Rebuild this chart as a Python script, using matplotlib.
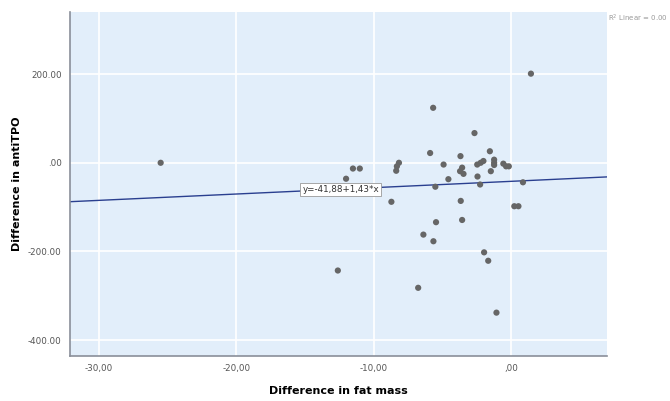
import numpy as np
import matplotlib.pyplot as plt

# Datos
fat_mass = [-25.5, -12.6, -12.0, -11.5, -11.0, -8.7, -8.35, -8.3, -8.15,
            -6.75, -6.37, -5.88, -5.66, -5.64, -5.5, -5.45, -4.9, -4.55,
            -3.67, -3.7, -3.55, -3.45, -3.65, -3.55, -2.65, -2.43, -2.45,
            -2.24, -2.2, -2.0, -1.95, -1.65, -1.53, -1.46, -1.22, -1.22,
            -1.22, -1.05, -0.55, -0.35, -0.15, 0.25, 0.55, 0.88, 1.46]
anti_tpo = [0, -243, -36, -13, -13, -88, -18, -8, 0,
            -282, -162, 22, 124, -177, -54, -134, -4, -37,
            15, -19, -11, -25, -86, -129, 67, -31, -4,
            -49, 0, 4, -202, -221, 26, -19, 7, 0,
            -5, -338, -2, -8, -8, -98, -98, -44, 201]
intercept = -41.88
slope = 1.43
xticks = [-30, -20, -10, 0]
xtick_labels = ["-30,00", "-20,00", "-10,00", ",00"]
yticks = [-400, -200, 0, 200]
ytick_labels = ["-400.00", "-200.00", ".00", "200.00"]

fig = plt.figure(figsize=(6.7, 4.01), dpi=100)
ax = fig.add_axes([0.1045, 0.112, 0.8015, 0.858])
ax.set_facecolor("#E2EEFA")
xmin, xmax = -32.1, 7.0
ax.set_xlim(xmin, xmax)
ax.set_ylim(-436, 340)

# Grilla
ax.set_xticks(xticks)
ax.set_xticklabels(xtick_labels)
ax.set_yticks(yticks)
ax.set_yticklabels(ytick_labels)
ax.grid(True, color="white", lw=1.2)
ax.set_axisbelow(True)
ax.tick_params(length=0, labelsize=6.3, labelcolor="#555555", pad=6)

for s in ["top", "right"]:
    ax.spines[s].set_visible(False)
for s in ["left", "bottom"]:
    ax.spines[s].set_color("#8a8f99")
    ax.spines[s].set_linewidth(1.2)

# Puntos
ax.scatter(fat_mass, anti_tpo, s=20, color="#666666", edgecolors="none", zorder=3)

# Recta de regresion
xl = np.array([xmin, xmax])
ax.plot(xl, intercept + slope*xl, color="#2a3f8f", lw=1.0, zorder=2)
ax.text(-12.4, -60, "y=-41,88+1,43*x", fontsize=6.3, color="#333333",
        ha="center", va="center", zorder=4,
        bbox=dict(boxstyle="square,pad=0.25", fc="white", ec="#999999", lw=0.6))

ax.set_xlabel("Difference in fat mass", fontsize=8, fontweight="bold", labelpad=9)
ax.set_ylabel("Difference in antiTPO", fontsize=8, fontweight="bold", labelpad=4)

fig.text(0.908, 0.955, r"R$^2$ Linear = 0.00", fontsize=5, color="#999999",
         ha="left", va="center")

plt.savefig("out.png", dpi=100)
